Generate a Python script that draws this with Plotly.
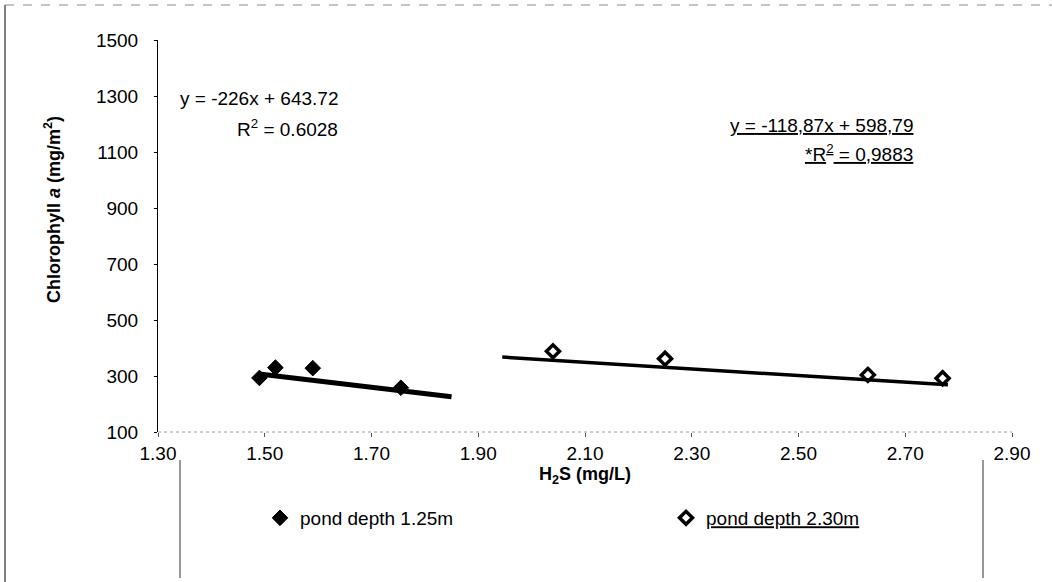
import plotly.graph_objects as go

# Chlorophyll a vs hydrogen sulphide, two pond depths
h2s_shallow = [1.49, 1.52, 1.59, 1.755]
chl_shallow = [293, 330, 328, 258]

h2s_deep = [2.04, 2.25, 2.63, 2.77]
chl_deep = [388, 362, 304, 292]

# linear trendlines: slope, intercept and the x-span each is drawn over
fit_shallow = (-226.0, 643.72)
fit_deep = (-118.87, 598.79)
span_shallow = [1.49, 1.85]
span_deep = [1.945, 2.78]

eq_shallow = ["y = -226x + 643.72", "R<sup>2</sup> = 0.6028"]
eq_deep = ["<u>y = -118,87x + 598,79</u>", "<u>*R<sup>2</sup> = 0,9883</u>"]

x_ticks = [1.30, 1.50, 1.70, 1.90, 2.10, 2.30, 2.50, 2.70, 2.90]
y_ticks = [100, 300, 500, 700, 900, 1100, 1300, 1500]

W, H = 1052, 582
ML, MR, MT, MB = 158, 40, 40, 150
PW, PH = W - ML - MR, H - MT - MB


def px(xp):
    return (xp - ML) / PW


def py(yp):
    return (H - MB - yp) / PH


def trend(fit, span):
    slope, icpt = fit
    return span, [slope * v + icpt for v in span]


FONT = "Liberation Sans, Arial, sans-serif"

fig = go.Figure()

tx, ty = trend(fit_shallow, span_shallow)
fig.add_trace(go.Scatter(x=tx, y=ty, mode="lines", line=dict(color="black", width=5),
                         showlegend=False, hoverinfo="skip"))
tx, ty = trend(fit_deep, span_deep)
fig.add_trace(go.Scatter(x=tx, y=ty, mode="lines", line=dict(color="black", width=3.5),
                         showlegend=False, hoverinfo="skip"))

fig.add_trace(go.Scatter(
    x=h2s_shallow, y=chl_shallow, mode="markers", name="pond depth 1.25m", legend="legend",
    marker=dict(symbol="diamond", size=12, color="black", line=dict(color="black", width=1)),
))
fig.add_trace(go.Scatter(
    x=h2s_deep, y=chl_deep, mode="markers", name="<u>pond depth 2.30m</u>", legend="legend2",
    marker=dict(symbol="diamond-open", size=10, color="black", line=dict(color="black", width=3.5)),
))

# trendline equations, right aligned
EQ_FONT = dict(size=19, color="black", family=FONT)
for text, yy in zip(eq_shallow, [1290, 1185]):
    fig.add_annotation(x=1.641, y=yy, text=text, showarrow=False, xanchor="right",
                       yanchor="middle", font=EQ_FONT)
for text, yy in zip(eq_deep, [1195, 1095]):
    fig.add_annotation(x=2.718, y=yy, text=text, showarrow=False, xanchor="right",
                       yanchor="middle", font=EQ_FONT)

# axis titles
fig.add_annotation(xref="paper", yref="paper", x=px(52), y=py(210),
                   text="<b>Chlorophyll <i>a</i> (mg/m<sup>2</sup>)</b>", textangle=-90,
                   showarrow=False, xanchor="center", yanchor="middle",
                   font=dict(size=18, color="black", family=FONT))
fig.add_annotation(xref="paper", yref="paper", x=0.5, y=py(475),
                   text="<b>H<sub>2</sub>S (mg/L)</b>", showarrow=False,
                   xanchor="center", yanchor="middle",
                   font=dict(size=18, color="black", family=FONT))

shapes = [
    # faint x axis line
    dict(type="line", xref="paper", yref="paper", x0=0, x1=1, y0=0, y1=0,
         line=dict(color="#9a9a9a", width=1, dash="dot")),
    # outer frame remnants
    dict(type="line", xref="paper", yref="paper", x0=px(5), x1=px(5), y0=py(5), y1=py(582),
         line=dict(color="#555555", width=1.5)),
    dict(type="line", xref="paper", yref="paper", x0=px(5), x1=px(1052), y0=py(5), y1=py(5),
         line=dict(color="#8a8a8a", width=1, dash="dash")),
    # legend frame sides
    dict(type="line", xref="paper", yref="paper", x0=px(180), x1=px(180), y0=py(460), y1=py(578),
         line=dict(color="#333333", width=1)),
    dict(type="line", xref="paper", yref="paper", x0=px(983), x1=px(983), y0=py(460), y1=py(578),
         line=dict(color="#333333", width=1)),
]

LEG_FONT = dict(size=19, color="black", family=FONT)
fig.update_layout(
    width=W, height=H,
    margin=dict(l=ML, r=MR, t=MT, b=MB),
    paper_bgcolor="white", plot_bgcolor="white",
    font=dict(family=FONT, size=19, color="black"),
    shapes=shapes,
    showlegend=True,
    legend=dict(x=px(260), xanchor="left", y=py(518), yanchor="middle",
                font=LEG_FONT, bgcolor="rgba(0,0,0,0)", borderwidth=0),
    legend2=dict(x=px(666), xanchor="left", y=py(518), yanchor="middle",
                 font=LEG_FONT, bgcolor="rgba(0,0,0,0)", borderwidth=0),
    xaxis=dict(range=[1.30, 2.90], tickvals=x_ticks, ticktext=[f"{v:.2f}" for v in x_ticks],
               showgrid=False, zeroline=False, showline=False,
               ticks="outside", ticklen=4, tickcolor="#555555",
               tickfont=dict(size=19, color="black", family=FONT)),
    yaxis=dict(range=[100, 1500], tickvals=y_ticks, showgrid=False, zeroline=False,
               showline=True, linecolor="black", linewidth=1,
               ticks="outside", ticklen=3, tickcolor="black", ticklabelstandoff=12,
               tickfont=dict(size=19, color="black", family=FONT)),
)

fig.write_html("out.html")
